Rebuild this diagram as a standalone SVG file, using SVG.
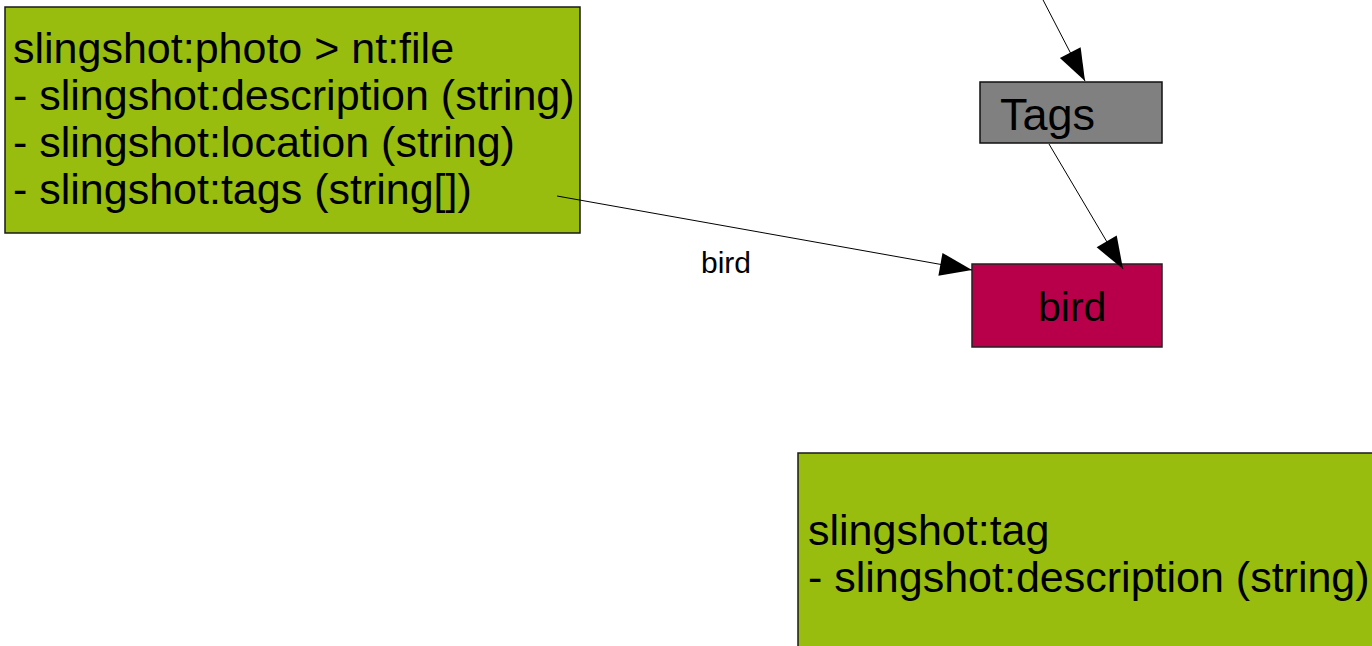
<svg xmlns="http://www.w3.org/2000/svg" width="1372" height="646" viewBox="0 0 1372 646">
<style>
.t{font-family:"Liberation Sans",Arial,sans-serif;fill:#000}
.green{fill:#98bd0e;stroke:#1a1a1a;stroke-width:1.5}
.edge{stroke:#000;stroke-width:1;fill:none}
</style>
<defs>
<marker id="ah" markerUnits="userSpaceOnUse" markerWidth="34" markerHeight="26" refX="33" refY="12" orient="auto" viewBox="-1 0 35 24">
<path d="M0,0 L33,12 L0,24 Z" fill="#000"/>
</marker>
</defs>
<rect width="1372" height="646" fill="#fff"/>
<g id="node-photo">
<rect class="green" x="5" y="7" width="575" height="226"/>
<text class="t" font-size="43">
<tspan x="13" y="63">slingshot:photo &gt; nt:file</tspan>
<tspan x="13" y="110">- slingshot:description (string)</tspan>
<tspan x="13" y="157">- slingshot:location (string)</tspan>
<tspan x="13" y="204">- slingshot:tags (string[])</tspan>
</text>
</g>
<g id="node-tags">
<rect x="980" y="82" width="182" height="61" fill="#808080" stroke="#111" stroke-width="1.5"/>
<text class="t" x="1000" y="130" font-size="45">Tags</text>
</g>
<g id="node-bird">
<rect x="972" y="264" width="190" height="83" fill="#b8004a" stroke="#222" stroke-width="1.5"/>
<text class="t" x="1038" y="321" font-size="41">bird</text>
</g>
<g id="node-tag">
<rect class="green" x="798" y="453" width="590" height="210"/>
<text class="t" font-size="43">
<tspan x="808" y="545">slingshot:tag</tspan>
<tspan x="808" y="592">- slingshot:description (string)</tspan>
</text>
</g>
<g id="edges">
<line class="edge" x1="1041" y1="-4" x2="1085" y2="81" marker-end="url(#ah)"/>
<line class="edge" x1="1049" y1="144" x2="1123" y2="269" marker-end="url(#ah)"/>
<line class="edge" x1="557" y1="196" x2="972" y2="270" marker-end="url(#ah)"/>
<text class="t" x="701" y="273" font-size="30" id="edge-label">bird</text>
</g>
</svg>
